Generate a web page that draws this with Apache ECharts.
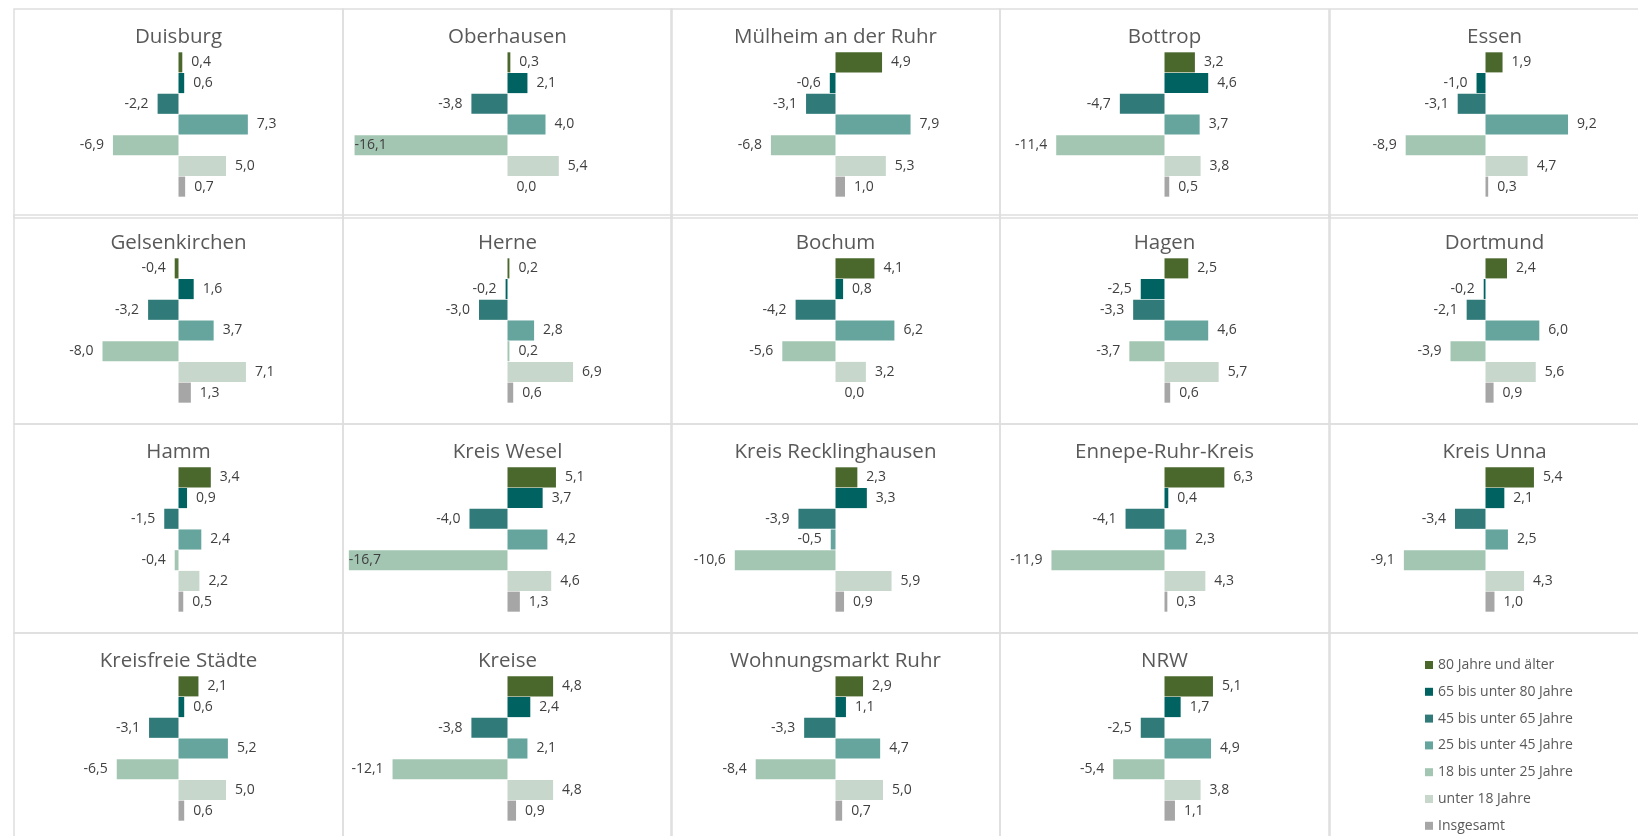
<!DOCTYPE html>
<html>
<head>
<meta charset="utf-8">
<title>Bevölkerungsentwicklung nach Altersgruppen</title>
<script src="https://cdn.jsdelivr.net/npm/echarts@6/dist/echarts.min.js"></script>
<style>
  html, body { margin: 0; padding: 0; background: #fff; }
  #chart { width: 1638px; height: 836px; }
</style>
</head>
<body>
<div id="chart"></div>
<script>
  // Regionen, zeilenweise wie im Raster (5 Spalten)
  const regions = [
    'Duisburg', 'Oberhausen', 'Mülheim an der Ruhr', 'Bottrop', 'Essen',
    'Gelsenkirchen', 'Herne', 'Bochum', 'Hagen', 'Dortmund',
    'Hamm', 'Kreis Wesel', 'Kreis Recklinghausen', 'Ennepe-Ruhr-Kreis', 'Kreis Unna',
    'Kreisfreie Städte', 'Kreise', 'Wohnungsmarkt Ruhr', 'NRW'
  ];
  const ageGroups = [
    '80 Jahre und älter', '65 bis unter 80 Jahre', '45 bis unter 65 Jahre',
    '25 bis unter 45 Jahre', '18 bis unter 25 Jahre', 'unter 18 Jahre', 'Insgesamt'
  ];
  // Veränderung in %, je Altersgruppe, gleiche Reihenfolge wie regions
  const age80plus = [0.4, 0.3, 4.9, 3.2, 1.9, -0.4, 0.2, 4.1, 2.5, 2.4, 3.4, 5.1, 2.3, 6.3, 5.4, 2.1, 4.8, 2.9, 5.1];
  const age65to80 = [0.6, 2.1, -0.6, 4.6, -1.0, 1.6, -0.2, 0.8, -2.5, -0.2, 0.9, 3.7, 3.3, 0.4, 2.1, 0.6, 2.4, 1.1, 1.7];
  const age45to65 = [-2.2, -3.8, -3.1, -4.7, -3.1, -3.2, -3.0, -4.2, -3.3, -2.1, -1.5, -4.0, -3.9, -4.1, -3.4, -3.1, -3.8, -3.3, -2.5];
  const age25to45 = [7.3, 4.0, 7.9, 3.7, 9.2, 3.7, 2.8, 6.2, 4.6, 6.0, 2.4, 4.2, -0.5, 2.3, 2.5, 5.2, 2.1, 4.7, 4.9];
  const age18to25 = [-6.9, -16.1, -6.8, -11.4, -8.9, -8.0, 0.2, -5.6, -3.7, -3.9, -0.4, -16.7, -10.6, -11.9, -9.1, -6.5, -12.1, -8.4, -5.4];
  const ageUnder18 = [5.0, 5.4, 5.3, 3.8, 4.7, 7.1, 6.9, 3.2, 5.7, 5.6, 2.2, 4.6, 5.9, 4.3, 4.3, 5.0, 4.8, 5.0, 3.8];
  const total = [0.7, 0.0, 1.0, 0.5, 0.3, 1.3, 0.6, 0.0, 0.6, 0.9, 0.5, 1.3, 0.9, 0.3, 1.0, 0.6, 0.9, 0.7, 1.1];

  const groupValues = [age80plus, age65to80, age45to65, age25to45, age18to25, ageUnder18, total];
  const colors = ['#4a682c', '#006362', '#307a7a', '#66a59e', '#a3c6b3', '#c8d7cc', '#a6a6a6'];

  // Raster der Kacheln
  const colLeft = [14, 343, 671, 1000, 1330];
  const rowTop = [9, 215, 424, 633];
  const cellW = 329, cellH = 209;
  const font = 'Open Sans';

  const fmt = v => v.toFixed(1).replace('.', ',');

  const grids = [], xAxes = [], yAxes = [], titles = [], series = [], frames = [];

  for (let r = 0; r < 4; r++) {
    for (let c = 0; c < 5; c++) {
      frames.push({
        type: 'rect',
        shape: { x: colLeft[c], y: rowTop[r], width: cellW, height: cellH },
        style: { fill: 'none', stroke: '#dedede', lineWidth: 1.5 },
        silent: true
      });
    }
  }

  regions.forEach((name, i) => {
    const left = colLeft[i % 5];
    const top = rowTop[Math.floor(i / 5)];

    titles.push({
      text: name,
      left: left + cellW / 2,
      top: top + 18,
      textAlign: 'center',
      padding: 0,
      textStyle: { fontFamily: font, fontSize: 20.5, fontWeight: 'normal', color: '#595959' }
    });

    grids.push({ left: left + 3, top: top + 43, width: cellW - 6, height: 145 });
    xAxes.push({ gridIndex: i, type: 'value', min: -17, max: 17, show: false });
    yAxes.push({ gridIndex: i, type: 'category', data: ageGroups, inverse: true, show: false });

    ageGroups.forEach((g, k) => {
      const v = groupValues[k][i];
      // sehr lange negative Balken: Beschriftung im Balken, wie im Original
      const pos = v < -15 ? 'insideLeft' : (v < 0 ? 'left' : 'right');
      series.push({
        type: 'bar',
        name: g,
        xAxisIndex: i,
        yAxisIndex: i,
        stack: 'r' + i,
        barCategoryGap: '3%',
        itemStyle: { color: colors[k] },
        label: {
          show: true,
          fontFamily: font,
          fontSize: 14,
          color: '#404040',
          formatter: p => fmt(p.value)
        },
        data: ageGroups.map((_, j) => j === k
          ? { value: v, label: { position: pos, distance: pos === 'insideLeft' ? 0 : 9 } }
          : '-')
      });
    });
  });

  const chart = echarts.init(document.getElementById('chart'));
  chart.setOption({
    animation: false,
    backgroundColor: '#ffffff',
    title: titles,
    grid: grids,
    xAxis: xAxes,
    yAxis: yAxes,
    legend: {
      data: ageGroups,
      orient: 'vertical',
      left: 1425,
      top: 658,
      padding: 0,
      icon: 'rect',
      itemWidth: 8,
      itemHeight: 8,
      itemGap: 12.8,
      textStyle: { fontFamily: font, fontSize: 14, color: '#595959' }
    },
    graphic: frames,
    series: series
  });
</script>
</body>
</html>
